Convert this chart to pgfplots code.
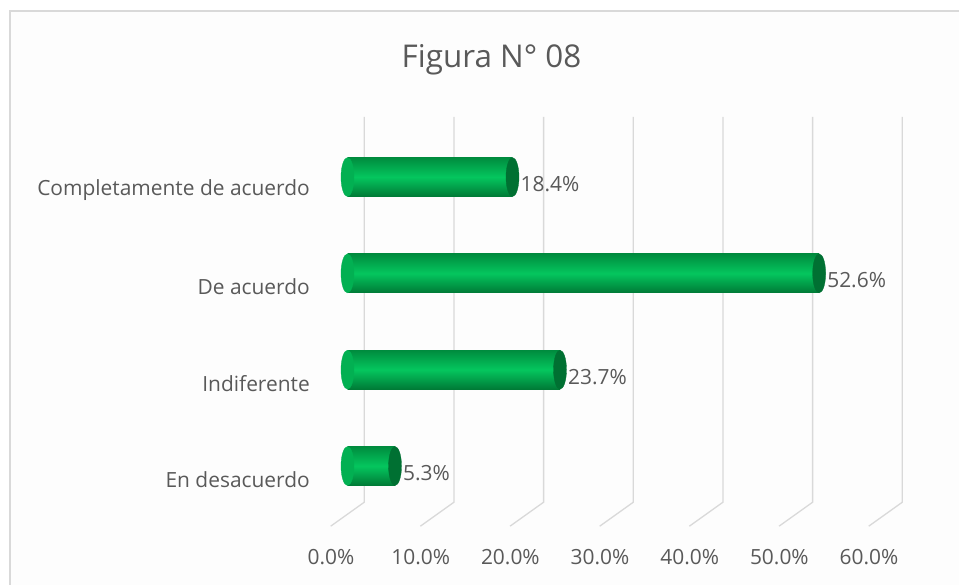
\documentclass[border=0pt]{standalone}
\usepackage{pgfplots}
\pgfplotsset{compat=1.18}
\usepackage{fontspec}
\setmainfont{Open Sans}
\definecolor{txt}{HTML}{595959}
\definecolor{gridc}{HTML}{D9D9D9}
\definecolor{barTop}{RGB}{0,140,62}
\definecolor{barMid}{RGB}{4,198,94}
\definecolor{barBot}{RGB}{0,122,54}
\definecolor{capc}{RGB}{0,112,50}
\definecolor{capLc}{RGB}{2,176,82}
\begin{document}
\begin{tikzpicture}[x=1bp,y=1bp]
\useasboundingbox (0,0) rectangle (959,585);
\fill[white] (0,0) rectangle (959,585);
\draw[gridc, line width=1.5bp, fill={rgb,255:red,253;green,253;blue,253}] (10,574) rectangle (975,-20);
\node[anchor=base, font=\fontsize{31.5}{36}\selectfont, text=txt, inner sep=0] at (491.5,517.7) {Figura N° 08};
\begin{axis}[
  at={(347.5bp,70.8bp)}, anchor=south west,
  scale only axis, width=538bp, height=385.3bp,
  xmin=0, xmax=60, ymin=-0.5, ymax=3.5,
  clip=false,
  axis line style={draw=none},
  tick style={draw=none},
  major tick length=0pt,
  /pgf/number format/assume math mode=true,
  xtick={0,10,20,30,40,50,60},
  xticklabel={\pgfmathprintnumber[fixed,fixed zerofill,precision=1]{\tick}\%},
  ytick={0,1,2,3},
  yticklabels={En desacuerdo, Indiferente, De acuerdo, Completamente de acuerdo},
  xticklabel style={anchor=center, xshift=-16.5bp, yshift=-42.8bp, inner sep=0pt, font=\fontsize{21}{25}\selectfont, text=txt},
  yticklabel style={anchor=east, xshift=-37.5bp, yshift=-13.5bp, inner sep=0pt, font=\fontsize{21}{25}\selectfont, text=txt},
  leftcap/.style={only marks, mark=*, mark size=19.5bp, mark options={xscale=0.333, fill=capLc, draw=capLc, line width=0.3bp}},
  rightcap/.style={only marks, mark=*, mark size=19.5bp, mark options={xscale=0.333, fill=capc, draw=capc, line width=0.3bp},
     point meta=x,
     nodes near coords={\pgfmathprintnumber[fixed,fixed zerofill,precision=1]{\pgfplotspointmeta}\%},
     nodes near coords style={anchor=west, xshift=8bp, yshift=-7bp, inner sep=0pt, font=\fontsize{21}{25}\selectfont, text=txt}},
  body/.style={xbar, bar width=39bp, draw=none, top color=barTop, bottom color=barBot, middle color=barMid},
]
\pgfplotsinvokeforeach{0,10,20,30,40,50,60}{
  \draw[gridc, line width=1.3bp] ([shift={(16.8bp,12bp)}]axis cs:#1,3.5) -- ([shift={(16.8bp,12bp)}]axis cs:#1,-0.5) -- ++(-33.6bp,-24bp);
}
% Completamente de acuerdo
\addplot[leftcap] coordinates {(0,3)};
\addplot[body] coordinates {(18.4,3)};
\addplot[rightcap] coordinates {(18.4,3)};
% De acuerdo
\addplot[leftcap] coordinates {(0,2)};
\addplot[body] coordinates {(52.6,2)};
\addplot[rightcap] coordinates {(52.6,2)};
% Indiferente
\addplot[leftcap] coordinates {(0,1)};
\addplot[body] coordinates {(23.7,1)};
\addplot[rightcap] coordinates {(23.7,1)};
% En desacuerdo
\addplot[leftcap] coordinates {(0,0)};
\addplot[body] coordinates {(5.3,0)};
\addplot[rightcap] coordinates {(5.3,0)};
\end{axis}
\end{tikzpicture}
\end{document}
